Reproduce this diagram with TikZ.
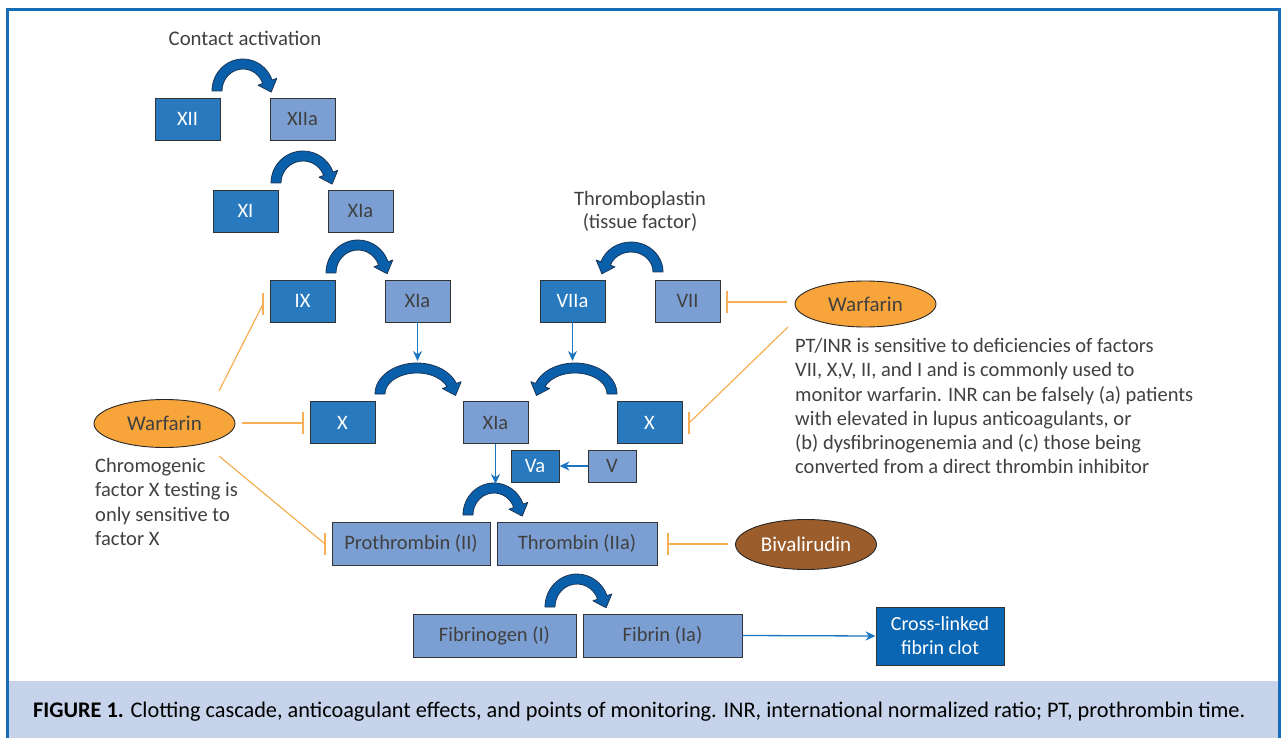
\documentclass[tikz,border=0pt]{standalone}
\usepackage{fontspec}
\setmainfont{Carlito}
\usetikzlibrary{arrows.meta,calc,shapes.geometric}
\definecolor{boxdark}{RGB}{41,121,190}
\definecolor{boxlight}{RGB}{124,159,211}
\definecolor{clotblue}{RGB}{10,102,178}
\definecolor{arcfill}{RGB}{10,95,170}
\definecolor{arcline}{RGB}{27,53,88}
\definecolor{warf}{RGB}{247,164,59}
\definecolor{inhib}{RGB}{248,174,82}
\definecolor{biva}{RGB}{156,93,44}
\definecolor{framecol}{RGB}{23,108,183}
\definecolor{band}{RGB}{198,211,234}
\definecolor{txt}{RGB}{64,64,64}
\definecolor{conncol}{RGB}{28,117,192}
\tikzset{
  fbox/.style={draw=black!80, line width=0.9pt, minimum width=65pt, minimum height=42pt, inner sep=0pt, font=\fontsize{20.5}{22}\selectfont},
  dk/.style={fbox, fill=boxdark, text=white},
  lt/.style={fbox, fill=boxlight, text=txt},
  drug/.style={ellipse, draw=black!85, line width=0.9pt, minimum width=141pt, minimum height=48pt, inner sep=0pt, font=\fontsize{21}{23}\selectfont},
  arcstyle/.style={fill=arcfill, draw=arcline, line width=0.8pt, line join=round},
  conn/.style={draw=conncol, line width=1.3pt, -{Stealth[length=10pt,width=9pt]}},
  inh/.style={draw=inhib, line width=1.2pt},
  lbl/.style={text=txt, inner sep=0pt},
}
\newcommand\CWarc[5]{%
  \coordinate (#1) at (#2,#3);
  \filldraw[arcstyle] ($(#1)+(180:#4+5 and #5+5)$) arc[start angle=180,end angle=340,x radius=#4+5,y radius=#5+5]
    -- ($(#1)+(340:#4+10 and #5+10)$) -- ($(#1)+(340:#4 and #5)+(70:11)$) -- ($(#1)+(340:#4-10 and #5-10)$)
    -- ($(#1)+(340:#4-5 and #5-5)$) arc[start angle=340,end angle=180,x radius=#4-5,y radius=#5-5] -- cycle;}
\newcommand\CCWarc[5]{%
  \coordinate (#1) at (#2,#3);
  \filldraw[arcstyle] ($(#1)+(0:#4+5 and #5+5)$) arc[start angle=360,end angle=200,x radius=#4+5,y radius=#5+5]
    -- ($(#1)+(200:#4+10 and #5+10)$) -- ($(#1)+(200:#4 and #5)+(110:11)$) -- ($(#1)+(200:#4-10 and #5-10)$)
    -- ($(#1)+(200:#4-5 and #5-5)$) arc[start angle=200,end angle=360,x radius=#4-5,y radius=#5-5] -- cycle;}
\newcommand\VBar[1]{\draw[inh] ($(#1)+(0,-11)$) -- ($(#1)+(0,11)$);}
\begin{document}
\begin{tikzpicture}[x=1pt,y=-1pt]
\useasboundingbox (0,0) rectangle (1286,738);
% frame and caption band
\fill[band] (9,681) rectangle (1278,738);
\draw[framecol, line width=3pt] (7.5,738) -- (7.5,9.5) -- (1279.5,9.5) -- (1279.5,738);
\node[anchor=west, inner sep=0pt, text=black, font=\fontsize{22.3}{24}\selectfont] (cap) at (33,712)
  {\textbf{FIGURE 1.} Clotting cascade, anticoagulant effects, and points of monitoring. INR, international normalized ratio; PT, prothrombin time.};

% labels
\node[lbl, font=\fontsize{20.8}{22}\selectfont] (contact) at (245,38) {Contact activation};
\node[lbl, align=center, font=\fontsize{20.5}{23}\selectfont] (thrombo) at (640,211) {Thromboplastin\\(tissue factor)};

% boxes
\node[dk] (xii) at (187.5,119) {XII};
\node[lt] (xiia) at (302.5,119) {XIIa};
\node[dk] (xi) at (245.5,211) {XI};
\node[lt] (xia1) at (360.5,211) {XIa};
\node[dk] (ix) at (302.5,301) {IX};
\node[lt] (xia2) at (417.5,301) {XIa};
\node[dk] (viia) at (572.5,301) {VIIa};
\node[lt] (vii) at (687.5,301) {VII};
\node[dk] (xl) at (342.5,422.5) {X};
\node[lt] (xiam) at (495.5,422.5) {XIa};
\node[dk] (xr) at (649.5,422.5) {X};
\node[dk, minimum width=48pt, minimum height=32pt] (va) at (535,466) {Va};
\node[lt, minimum width=48pt, minimum height=32pt] (v) at (612,466) {V};
\node[lt, minimum width=158pt, minimum height=43pt] (pro) at (411,543.5) {Prothrombin (II)};
\node[lt, minimum width=160pt, minimum height=43pt] (thr) at (577,543.5) {Thrombin (IIa)};
\node[lt, minimum width=163pt, minimum height=43pt] (fbg) at (494.5,635.5) {Fibrinogen (I)};
\node[lt, minimum width=159pt, minimum height=43pt] (fbn) at (662.5,635.5) {Fibrin (Ia)};
\node[fbox, fill=clotblue, text=white, minimum width=128pt, minimum height=58pt, align=center, font=\fontsize{20}{24}\selectfont] (clot) at (940,636) {Cross-linked\\fibrin clot};

% drugs
\node[drug, fill=warf, text=txt] (wfl) at (164.5,423.5) {Warfarin};
\node[drug, fill=warf, text=txt, minimum height=46pt] (wfr) at (865.5,304) {Warfarin};
\node[drug, fill=biva, text=white, minimum height=50pt] (biv) at (806,544.5) {Bivalirudin};

% notes
\node[lbl, anchor=north west, align=left, font=\fontsize{20.5}{24.3}\selectfont] (chromo) at (95,458)
  {Chromogenic\\factor X testing is\\only sensitive to\\factor X};
\node[lbl, anchor=north west, align=left, font=\fontsize{20.5}{24.3}\selectfont] (ptinr) at (795,338)
  {PT/INR is sensitive to deficiencies of factors\\VII, X,V, II, and I and is commonly used to\\monitor warfarin. INR can be falsely (a) patients\\with elevated in lupus anticoagulants, or\\(b) dysfibrinogenemia and (c) those being\\converted from a direct thrombin inhibitor};

% curved activation arrows
\CWarc{a1}{243}{91}{26}{27}
\CWarc{a2}{303}{183}{27}{27}
\CWarc{a3}{358}{273}{27}{28}
\CCWarc{a4}{631}{272}{27}{25}
\CWarc{a5}{417}{394}{37}{26}
\CCWarc{a6}{575}{394}{37}{26}
\CWarc{a7}{494}{515}{26}{27}
\CWarc{a8}{577}{607}{27}{28}

% blue connectors
\coordinate (t5) at (417.5,361);
\coordinate (t6) at (572.5,361);
\coordinate (t7) at (495.5,484);
\draw[conn] (xia2.south) -- (t5);
\draw[conn] (viia.south) -- (t6);
\draw[conn] (xiam.south) -- (t7);
\draw[conn] (v.west) -- (va.east);
\draw[conn] (fbn.east) -- (clot.west);

% inhibition lines
\coordinate (s1) at (219,391); \coordinate (e1) at (263,304);
\coordinate (s2) at (242,423); \coordinate (e2) at (303,423);
\coordinate (s3) at (219,456); \coordinate (e3) at (325,544);
\coordinate (s4) at (787,302); \coordinate (e4) at (727,302);
\coordinate (s5) at (788,327); \coordinate (e5) at (689,423);
\coordinate (s6) at (728,544); \coordinate (e6) at (668,544);
\draw[inh] (s1) -- (e1); \VBar{e1}
\draw[inh] (s2) -- (e2); \VBar{e2}
\draw[inh] (s3) -- (e3); \VBar{e3}
\draw[inh] (s4) -- (e4); \VBar{e4}
\draw[inh] (s5) -- (e5); \VBar{e5}
\draw[inh] (s6) -- (e6); \VBar{e6}
\end{tikzpicture}
\end{document}
